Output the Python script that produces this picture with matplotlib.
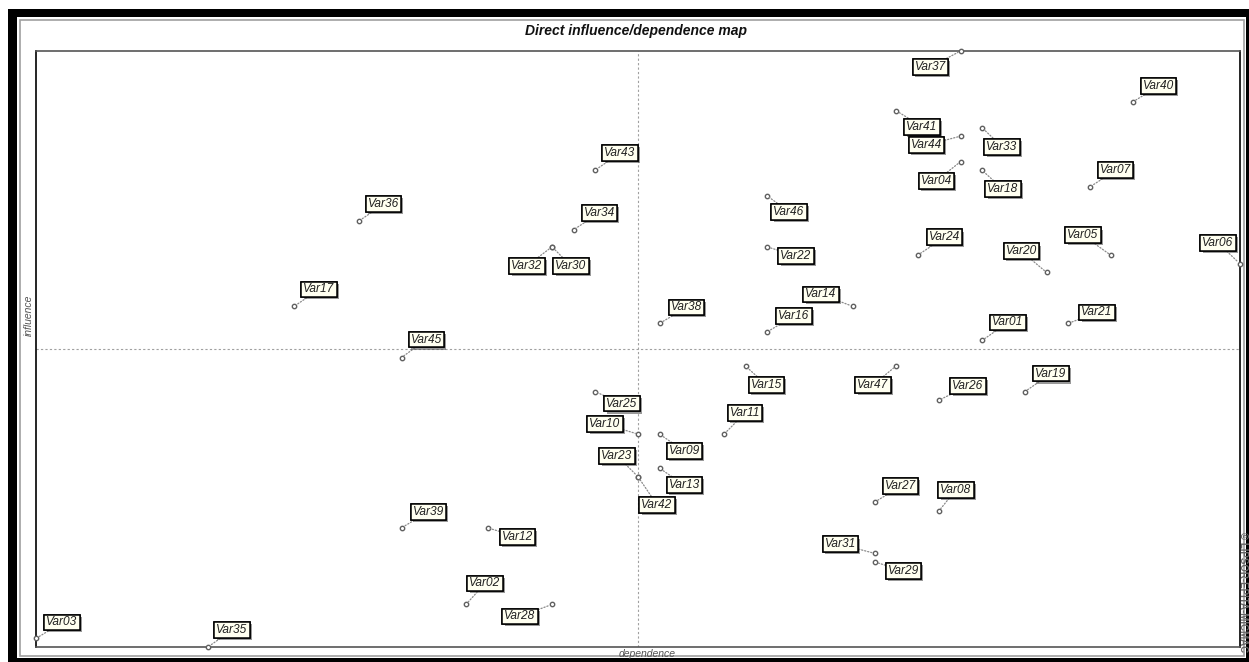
import matplotlib
matplotlib.use("Agg")
import matplotlib.pyplot as plt
import matplotlib.patheffects as pe
from matplotlib.patches import Rectangle

plt.rcParams['font.family'] = ['Liberation Sans', 'DejaVu Sans']

# variables and their direct dependence / influence scores
names = ['Var01', 'Var02', 'Var03', 'Var04', 'Var05', 'Var06', 'Var07', 'Var08',
         'Var09', 'Var10', 'Var11', 'Var12', 'Var13', 'Var14', 'Var15', 'Var16',
         'Var17', 'Var18', 'Var19', 'Var20', 'Var21', 'Var22', 'Var23', 'Var24',
         'Var25', 'Var26', 'Var27', 'Var28', 'Var29', 'Var30', 'Var31', 'Var32',
         'Var33', 'Var34', 'Var35', 'Var36', 'Var37', 'Var38', 'Var39', 'Var40',
         'Var41', 'Var42', 'Var43', 'Var44', 'Var45', 'Var46', 'Var47']
dependence = [44, 20, 0, 43, 50, 56, 49, 42,
              29, 28, 32, 21, 29, 38, 33, 34,
              12, 44, 46, 47, 48, 34, 28, 41,
              26, 42, 39, 24, 39, 24, 39, 24,
              44, 25, 8, 15, 43, 29, 17, 51,
              40, 28, 26, 43, 17, 34, 40]
influence = [36, 5, 1, 57, 46, 45, 54, 16,
             25, 25, 25, 14, 21, 40, 33, 37,
             40, 56, 30, 44, 38, 47, 20, 46,
             30, 29, 17, 5, 10, 47, 11, 47,
             61, 49, 0, 50, 70, 38, 14, 64,
             63, 20, 56, 60, 34, 53, 33]

# label placement (pixel offset of the label box from its point)
label_offsets = {
    'Var01': (26, 18), 'Var02': (19, 21), 'Var03': (26, 16), 'Var04': (-24, -19),
    'Var05': (-28, 20), 'Var06': (-22, 21), 'Var07': (26, 17), 'Var08': (17, 21),
    'Var09': (25, -17), 'Var10': (-33, 10), 'Var11': (21, 21), 'Var12': (30, -9),
    'Var13': (25, -17), 'Var14': (-32, 12), 'Var15': (21, -19), 'Var16': (27, 16),
    'Var17': (25, 17), 'Var18': (21, -19), 'Var19': (26, 18), 'Var20': (-25, 21),
    'Var21': (29, 11), 'Var22': (29, -9), 'Var23': (-21, 21), 'Var24': (27, 18),
    'Var25': (27, -12), 'Var26': (29, 14), 'Var27': (26, 16), 'Var28': (-32, -12),
    'Var29': (29, -9), 'Var30': (19, -19), 'Var31': (-34, 9), 'Var32': (-25, -19),
    'Var33': (20, -19), 'Var34': (26, 17), 'Var35': (24, 17), 'Var36': (25, 17),
    'Var37': (-30, -16), 'Var38': (27, 16), 'Var39': (27, 16), 'Var40': (26, 16),
    'Var41': (26, -16), 'Var42': (19, -28), 'Var43': (25, 17), 'Var44': (-34, -9),
    'Var45': (25, 18), 'Var46': (22, -16), 'Var47': (-23, -19),
}

W, H = 1249, 662
fig = plt.figure(figsize=(W / 100, H / 100), dpi=100)
fig.patch.set_facecolor('white')


def px_rect(x0, y0, x1, y1, **kw):
    # rectangle given in image pixels (y measured from the top)
    r = Rectangle((x0 / W, 1 - y1 / H), (x1 - x0) / W, (y1 - y0) / H,
                  transform=fig.transFigure, **kw)
    fig.add_artist(r)


# window frame
px_rect(8, 9, W, H, facecolor='black', edgecolor='none', zorder=0)
px_rect(17, 17, 1246, 658, facecolor='white', edgecolor='none', zorder=0)
px_rect(20, 20, 1244, 656, facecolor='none', edgecolor='#a0a0a0', lw=1.2, zorder=0)

# plot area in pixels: x 36..1240, y 51..647
ax = fig.add_axes([36 / W, 1 - 647 / H, 1204 / W, 596 / H])
ax.set_xlim(0, 56)
ax.set_ylim(0, 70)
ax.set_xticks([])
ax.set_yticks([])
for s in ax.spines.values():
    s.set_color('#555555')
    s.set_linewidth(1.2)
ax.spines['left'].set_color('black')
ax.spines['right'].set_color('black')

# quadrant lines at the middle of each range
ax.axvline(28, color='#a0a0a0', lw=0.8, ls=(0, (2, 2)), zorder=1)
ax.axhline(35, color='#a0a0a0', lw=0.8, ls=(0, (2, 2)), zorder=1)

ax.scatter(dependence, influence, s=10, facecolor='white', edgecolor='#606060',
           linewidth=1.0, zorder=3, clip_on=False)

for name, x, y in zip(names, dependence, influence):
    dx, dy = label_offsets[name]
    ann = ax.annotate(name, (x, y), xytext=(dx, dy), textcoords='offset pixels',
                      ha='center', va='center', fontsize=8.6, style='italic',
                      color='#202020', zorder=5, annotation_clip=False,
                      bbox=dict(boxstyle='square,pad=0.16', facecolor='#fffff0',
                                edgecolor='black', lw=1.1),
                      arrowprops=dict(arrowstyle='-', color='#8a8a8a', lw=0.9,
                                      ls=(0, (1, 1.5)), shrinkA=0, shrinkB=2))
    ann.get_bbox_patch().set_path_effects(
        [pe.withSimplePatchShadow(offset=(1.5, -1.5), shadow_rgbFace='#555555', alpha=0.6),
         pe.Normal()])

fig.text(636 / W, 1 - 31 / H, 'Direct influence/dependence map', ha='center', va='center',
         fontsize=10, fontweight='bold', style='italic', color='#111111')
fig.text(647 / W, 1 - 654 / H, 'dependence', ha='center', va='center',
         fontsize=7.5, style='italic', color='#555555')
fig.text(29 / W, 1 - 315 / H, 'influence', ha='center', va='center', rotation=90,
         fontsize=7.5, style='italic', color='#555555')
fig.text(1243 / W, 1 - 592 / H, '\u00a9 LIPSOR-EPITA-MICMAC', ha='center', va='center',
         rotation=270, fontsize=7, fontweight='bold', color='#666666')

fig.savefig('out.png', dpi=100)
